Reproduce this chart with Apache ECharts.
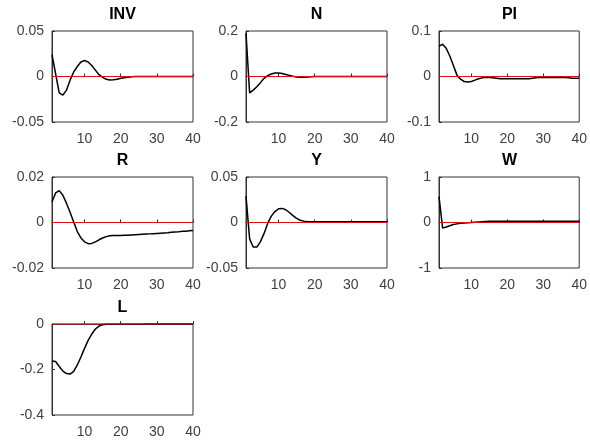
<!DOCTYPE html>
<html>
<head>
<meta charset="utf-8">
<script src="https://cdn.jsdelivr.net/npm/echarts@6/dist/echarts.min.js"></script>
<style>
html, body { margin: 0; padding: 0; background: #fff; }
#main { width: 590px; height: 443px; }
</style>
</head>
<body>
<div id="main"></div>
<script>
// impulse responses, periods 1..40
var panelNames = ["INV", "N", "PI", "R", "Y", "W", "L"];

var invData = [0.024, 0.003, -0.018, -0.0205, -0.015, -0.004, 0.005, 0.011, 0.016, 0.0175,
  0.016, 0.012, 0.007, 0.002, -0.001, -0.003, -0.0038, -0.0036, -0.003, -0.002,
  -0.0013, -0.0007, -0.0003, 0, 0, 0, 0, 0, 0, 0,
  0, 0, 0, 0, 0, 0, 0, 0, 0, 0];
var nData = [0.19, -0.072, -0.06, -0.045, -0.027, -0.008, 0.004, 0.011, 0.015, 0.015,
  0.013, 0.009, 0.005, 0.001, -0.002, -0.003, -0.003, -0.002, -0.001, 0,
  0, 0, 0, 0, 0, 0, 0, 0, 0, 0,
  0, 0, 0, 0, 0, 0, 0, 0, 0, 0];
var piData = [0.066, 0.071, 0.062, 0.045, 0.024, 0.003, -0.006, -0.011, -0.012, -0.011,
  -0.008, -0.005, -0.003, -0.002, -0.002, -0.003, -0.004, -0.005, -0.005, -0.005,
  -0.005, -0.005, -0.005, -0.005, -0.005, -0.005, -0.004, -0.003, -0.002, -0.002,
  -0.002, -0.002, -0.002, -0.002, -0.002, -0.002, -0.003, -0.004, -0.004, -0.004];
var rData = [0.009, 0.013, 0.014, 0.012, 0.0085, 0.0045, 0.0002, -0.004, -0.0068, -0.0085,
  -0.0093, -0.0092, -0.0085, -0.0076, -0.0068, -0.0062, -0.0058, -0.0057, -0.0057, -0.0057,
  -0.0056, -0.0056, -0.0055, -0.0054, -0.0053, -0.0052, -0.0051, -0.005, -0.0049, -0.0048,
  -0.0047, -0.0046, -0.0045, -0.0043, -0.0042, -0.0041, -0.0039, -0.0038, -0.0036, -0.0035];
var yData = [0.029, -0.018, -0.027, -0.027, -0.021, -0.012, -0.001, 0.007, 0.012, 0.015,
  0.0155, 0.014, 0.011, 0.0075, 0.0045, 0.0025, 0.0015, 0.001, 0.0008, 0.0008,
  0.0008, 0.0008, 0.0008, 0.0008, 0.0008, 0.0008, 0.0008, 0.0008, 0.0008, 0.0008,
  0.0008, 0.0008, 0.0008, 0.0008, 0.0008, 0.0008, 0.0008, 0.0008, 0.0008, 0.0008];
var wData = [0.57, -0.12, -0.1, -0.07, -0.045, -0.03, -0.018, -0.01, -0.005, 0,
  0.005, 0.01, 0.015, 0.02, 0.025, 0.025, 0.025, 0.025, 0.025, 0.025,
  0.025, 0.025, 0.025, 0.025, 0.025, 0.025, 0.025, 0.025, 0.025, 0.025,
  0.025, 0.025, 0.025, 0.025, 0.025, 0.025, 0.025, 0.025, 0.025, 0.025];
var lData = [-0.163, -0.165, -0.187, -0.207, -0.218, -0.22, -0.208, -0.18, -0.145, -0.107,
  -0.072, -0.044, -0.022, -0.009, -0.003, -0.001, -0.001, -0.001, -0.001, -0.001,
  -0.001, -0.001, -0.001, -0.001, -0.001, -0.001, 0, 0, 0, 0,
  0, 0, 0, 0, 0, 0, 0, 0, 0, 0];

var seriesData = [invData, nData, piData, rData, yData, wData, lData];

var yTicks = [
  [-0.05, 0, 0.05],
  [-0.2, 0, 0.2],
  [-0.1, 0, 0.1],
  [-0.02, 0, 0.02],
  [-0.05, 0, 0.05],
  [-1, 0, 1],
  [-0.4, -0.2, 0]
];
var xTicks = [10, 20, 30, 40];
var zeroLine = [[1, 0], [40, 0]];

// layout of the 3x3 subplot grid
var colLeft = [52, 246, 439];
var rowTop = [31, 177, 324];
var boxW = 141, boxH = 91;
var axisColor = "#333";
var font = "Liberation Sans";

var myChart = echarts.init(document.getElementById("main"));

var grids = [], xAxes = [], yAxes = [], titles = [], series = [];
panelNames.forEach(function (name, i) {
  var col = i % 3, row = Math.floor(i / 3);
  var ticks = yTicks[i];
  grids.push({
    left: colLeft[col], top: rowTop[row], width: boxW, height: boxH,
    show: true, borderColor: axisColor, borderWidth: 1, backgroundColor: "#fff"
  });
  titles.push({
    text: name,
    left: colLeft[col] + boxW / 2,
    top: rowTop[row] - 24,
    textAlign: "center",
    padding: 0,
    textStyle: { fontFamily: font, fontSize: 16, fontWeight: "bold", color: "#000" }
  });
  xAxes.push({
    type: "value", gridIndex: i, min: 1, max: 40,
    axisLine: { show: true, lineStyle: { color: axisColor } },
    axisTick: { show: true, inside: true, length: 3, customValues: xTicks, lineStyle: { color: axisColor } },
    axisLabel: { customValues: xTicks, margin: 10, color: "#404040", fontFamily: font, fontSize: 14 },
    splitLine: { show: false }
  });
  yAxes.push({
    type: "value", gridIndex: i, min: ticks[0], max: ticks[2],
    axisLine: { show: true, lineStyle: { color: axisColor } },
    axisTick: { show: true, inside: true, length: 3, customValues: ticks, lineStyle: { color: axisColor } },
    axisLabel: { customValues: ticks, margin: 8, color: "#404040", fontFamily: font, fontSize: 14 },
    splitLine: { show: false }
  });
  series.push({
    type: "line", xAxisIndex: i, yAxisIndex: i, z: 2,
    showSymbol: false, silent: true,
    lineStyle: { color: "#000", width: 1.5 },
    data: seriesData[i].map(function (v, k) { return [k + 1, v]; })
  });
  series.push({
    type: "line", xAxisIndex: i, yAxisIndex: i, z: 3,
    showSymbol: false, silent: true,
    lineStyle: { color: "#e01010", width: 1 },
    data: zeroLine
  });
});

var option = {
  backgroundColor: "#fff",
  animation: false,
  title: titles,
  grid: grids,
  xAxis: xAxes,
  yAxis: yAxes,
  series: series
};
myChart.setOption(option);
window.addEventListener("resize", function () {
  myChart.resize();
});
</script>
</body>
</html>
